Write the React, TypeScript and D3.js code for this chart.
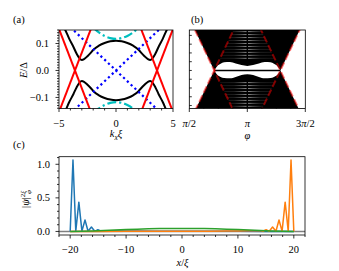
import * as d3 from "d3";
import React, { useEffect, useRef } from "react";

// ---------- (a) spectrum vs k_x xi ----------
const kA = [-4.62, -4.45, -4.1, -3.74, -3.45, -3.2, -3.0, -2.8, -2.5, -2.2, -2.0, -1.5, -1.0, -0.5, 0, 0.5, 1.0, 1.5, 2.0, 2.2, 2.5, 2.8, 3.0, 3.2, 3.45, 3.74, 4.1, 4.45, 4.62];
const eBlackUp = [0.162, 0.15, 0.117, 0.088, 0.062, 0.045, 0.039, 0.042, 0.053, 0.066, 0.076, 0.092, 0.102, 0.108, 0.11, 0.108, 0.102, 0.092, 0.076, 0.066, 0.053, 0.042, 0.039, 0.045, 0.062, 0.088, 0.117, 0.15, 0.162];
const eBlackDown = [-0.162, -0.15, -0.117, -0.088, -0.062, -0.045, -0.039, -0.042, -0.053, -0.066, -0.076, -0.092, -0.102, -0.108, -0.11, -0.108, -0.102, -0.092, -0.076, -0.066, -0.053, -0.042, -0.039, -0.045, -0.062, -0.088, -0.117, -0.15, -0.162];
const redCross = [-3.6, 3.6];
const redSlope = 0.11;
const kBlue = [-5, 5];
const eBlueUp = [-0.2, 0.2];
const eBlueDown = [0.2, -0.2];
const kCyan = [-2.0, -1.5, -1.0, -0.5, 0, 0.5, 1.0, 1.5, 2.0];
const eCyanUp = [0.159, 0.141, 0.128, 0.12, 0.117, 0.12, 0.128, 0.141, 0.159];
const eCyanDown = [-0.159, -0.141, -0.128, -0.12, -0.117, -0.12, -0.128, -0.141, -0.159];

// ---------- (b) spectrum vs phi (phi in units of pi) ----------
const crossB = [0.715, 1.285];
const slopeB = 0.9;
const bowPhi = [0.715, 0.74, 0.77, 0.8, 0.85, 0.9, 0.95, 1.0, 1.05, 1.1, 1.15, 1.2, 1.23, 1.26, 1.285];
const bowTop = [0, 0.016, 0.025, 0.03, 0.031, 0.026, 0.02, 0.017, 0.02, 0.026, 0.031, 0.03, 0.025, 0.016, 0];
const bowBottom = [0, -0.016, -0.024, -0.028, -0.029, -0.024, -0.017, -0.014, -0.017, -0.024, -0.029, -0.028, -0.024, -0.016, 0];
const stripeE = [0.045, 0.056, 0.067, 0.078, 0.089, 0.1, 0.111, 0.122, 0.133, 0.144, -0.045, -0.056, -0.067, -0.078, -0.089, -0.1, -0.111, -0.122, -0.133];

// ---------- (c) wavefunctions ----------
const xBlue = [-20, -19.5, -19.0, -18.45, -17.9, -17.35, -16.8, -16.2, -15.6, -15.05, -14.5, -14.0, -13.0, -12.0, -10.0, -8.0, -5.0, 0, 5, 10, 15, 20];
const yBlue = [0, 1.064, 0.004, 0.436, 0.004, 0.17, 0.003, 0.066, 0.002, 0.026, 0.003, 0.012, 0.01, 0.009, 0.007, 0.005, 0.003, 0.002, 0.001, 0.001, 0, 0];
const xOrange = [-20, -15, -10, -5, 0, 5, 8, 10, 12, 13, 14, 14.5, 15.05, 15.6, 16.2, 16.8, 17.35, 17.9, 18.45, 19.0, 19.5, 20];
const yOrange = [0, 0, 0.001, 0.001, 0.002, 0.003, 0.005, 0.007, 0.009, 0.01, 0.012, 0.003, 0.026, 0.002, 0.066, 0.003, 0.17, 0.004, 0.436, 0.004, 1.064, 0];
const xGreen = [-20, -18, -16, -14, -12, -10, -8, -6, -4, -2, 0, 2, 4, 6, 8, 10, 12, 14, 16, 18, 20];
const yGreen = [0, 0.002, 0.006, 0.013, 0.021, 0.028, 0.034, 0.039, 0.042, 0.044, 0.045, 0.044, 0.042, 0.039, 0.034, 0.028, 0.021, 0.013, 0.006, 0.002, 0];

// ---------- ticks ----------
const ticksAx = [-5, 0, 5];
const labelsAx = ["\u22125", "0", "5"];
const minorAx = [-4, -3, -2, -1, 1, 2, 3, 4];
const ticksAy = [-0.1, 0, 0.1];
const labelsAy = ["\u22120.1", "0.0", "0.1"];
const minorAy = [-0.14, -0.13, -0.12, -0.11, -0.09, -0.08, -0.07, -0.06, -0.05, -0.04, -0.03, -0.02, -0.01, 0.01, 0.02, 0.03, 0.04, 0.05, 0.06, 0.07, 0.08, 0.09, 0.11, 0.12, 0.13, 0.14, 0.15];
const ticksBx = [0.5, 1, 1.5];
const minorBx = [0.625, 0.75, 0.875, 1.125, 1.25, 1.375];
const ticksBy = [-0.13, -0.0975, -0.065, -0.0325, 0, 0.0325, 0.065, 0.0975, 0.13];
const ticksCx = [-20, -10, 0, 10, 20];
const labelsCx = ["\u221220", "\u221210", "0", "10", "20"];
const minorCx = [-22, -18, -16, -14, -12, -8, -6, -4, -2, 2, 4, 6, 8, 12, 14, 16, 18, 22];
const ticksCy = [0, 0.5, 1.0];
const labelsCy = ["0.0", "0.5", "1.0"];
const minorCy = [0.1, 0.2, 0.3, 0.4, 0.6, 0.7, 0.8, 0.9, 1.1];

const FONT = "Liberation Serif";
const FS = 10.5;

const zip = (a: number[], b: number[]) => a.map((v, i) => [v, b[i]] as [number, number]);

export default function App() {
  const ref = useRef<SVGSVGElement>(null);

  useEffect(() => {
    const svg = d3.select(ref.current);
    svg.selectAll("*").remove();
    const defs = svg.append("defs");

    const tickLines = (g: any, orient: string, pos: number, vals: number[], scale: any, len: number) => {
      vals.forEach((v) => {
        const p = scale(v);
        if (orient === "left")
          g.append("line").attr("x1", pos).attr("x2", pos - len).attr("y1", p).attr("y2", p);
        else
          g.append("line").attr("y1", pos).attr("y2", pos + len).attr("x1", p).attr("x2", p);
      });
    };
    const txt = (x: number, y: number, s: string, anchor = "middle", size = FS) =>
      svg.append("text").attr("x", x).attr("y", y).attr("text-anchor", anchor)
        .attr("font-family", FONT).attr("font-size", size).text(s);

    // ================= (a) =================
    const xA = d3.scaleLinear().domain([-5, 5]).range([59, 173]);
    const yA = d3.scaleLinear().domain([-0.141, 0.15]).range([108.5, 30]);
    defs.append("clipPath").attr("id", "clipA").append("rect")
      .attr("x", 59).attr("y", 30).attr("width", 114).attr("height", 78.5);
    const gA = svg.append("g").attr("clip-path", "url(#clipA)");
    const lineA = d3.line<[number, number]>().x((d) => xA(d[0])).y((d) => yA(d[1])).curve(d3.curveMonotoneX);
    const straightA = d3.line<[number, number]>().x((d) => xA(d[0])).y((d) => yA(d[1]));

    [eBlackUp, eBlackDown].forEach((es) =>
      gA.append("path").attr("d", lineA(zip(kA, es))).attr("fill", "none")
        .attr("stroke", "#000").attr("stroke-width", 2));
    [eBlueUp, eBlueDown].forEach((es) =>
      gA.append("path").attr("d", straightA(zip(kBlue, es))).attr("fill", "none")
        .attr("stroke", "#0000ff").attr("stroke-width", 2.2).attr("stroke-dasharray", "2.2,3"));
    [eCyanUp, eCyanDown].forEach((es) =>
      gA.append("path").attr("d", lineA(zip(kCyan, es))).attr("fill", "none")
        .attr("stroke", "#00bfbf").attr("stroke-width", 2.2).attr("stroke-dasharray", "9,3,2.2,3"));
    redCross.forEach((c) => {
      const dk = 0.17 / redSlope;
      [[0.17, -0.17], [-0.17, 0.17]].forEach((es) =>
        gA.append("path").attr("d", straightA(zip([c - dk, c + dk], es))).attr("fill", "none")
          .attr("stroke", "#ff0000").attr("stroke-width", 2));
    });

    svg.append("rect").attr("x", 59).attr("y", 30).attr("width", 114).attr("height", 78.5)
      .attr("fill", "none").attr("stroke", "#000").attr("stroke-width", 0.8);
    const tA = svg.append("g").attr("stroke", "#000").attr("stroke-width", 0.8);
    tickLines(tA, "bottom", 108.5, ticksAx, xA, 3.5);
    tickLines(tA, "bottom", 108.5, minorAx, xA, 2);
    tickLines(tA, "left", 59, ticksAy, yA, 3.5);
    tickLines(tA, "left", 59, minorAy, yA, 2);
    ticksAx.forEach((v, i) => txt(xA(v), 126.5, labelsAx[i]));
    ticksAy.forEach((v, i) => txt(49, yA(v) + 3.6, labelsAy[i], "end"));

    const kl = svg.append("text").attr("x", 116).attr("y", 137).attr("text-anchor", "middle")
      .attr("font-family", FONT).attr("font-size", FS).attr("font-style", "italic");
    kl.append("tspan").text("k");
    kl.append("tspan").attr("font-size", 7.5).attr("dy", 2.5).text("x");
    kl.append("tspan").attr("dy", -2.5).text("\u03be");

    const el = svg.append("text").attr("transform", "translate(26.5,70) rotate(-90)")
      .attr("text-anchor", "middle").attr("font-family", FONT).attr("font-size", FS);
    el.append("tspan").attr("font-style", "italic").text("E");
    el.append("tspan").text("/\u0394");

    txt(13, 23, "(a)", "start");

    // ================= (b) =================
    const xB = d3.scaleLinear().domain([0.5, 1.5]).range([189.3, 305.3]);
    const yB = yA;
    defs.append("clipPath").attr("id", "clipB").append("rect")
      .attr("x", 189.3).attr("y", 30).attr("width", 116).attr("height", 78.5);
    const gB = svg.append("g").attr("clip-path", "url(#clipB)");
    gB.append("rect").attr("x", 189.3).attr("y", 30).attr("width", 116).attr("height", 78.5).attr("fill", "#000");

    const poly = d3.line<[number, number]>().x((d) => xB(d[0])).y((d) => yB(d[1]));
    crossB.forEach((c, i) => {
      const edge = i === 0 ? 0.4 : 1.6;
      const h = slopeB * Math.abs(c - edge);
      gB.append("path").attr("d", poly([[edge, h], [c, 0], [edge, -h]]) + "Z").attr("fill", "#fff");
    });

    // level stripes between the inner branches
    const reach = 0.25;
    const dPhi = reach / slopeB;
    defs.append("clipPath").attr("id", "clipD").append("path")
      .attr("d", poly([[crossB[0], 0], [crossB[0] + dPhi, reach], [crossB[1] - dPhi, reach], [crossB[1], 0], [crossB[1] - dPhi, -reach], [crossB[0] + dPhi, -reach]]) + "Z");
    const grad = defs.append("linearGradient").attr("id", "gradB").attr("gradientUnits", "userSpaceOnUse")
      .attr("x1", xB(crossB[0])).attr("x2", xB(crossB[1])).attr("y1", 0).attr("y2", 0);
    [[0, 0.05], [0.3, 0.12], [0.42, 0.35], [0.5, 0.6], [0.58, 0.35], [0.7, 0.12], [1, 0.05]].forEach(([o, a]) =>
      grad.append("stop").attr("offset", o).attr("stop-color", "#fff").attr("stop-opacity", a));
    const gS = gB.append("g").attr("clip-path", "url(#clipD)");
    stripeE.forEach((e) =>
      gS.append("line").attr("x1", xB(crossB[0])).attr("x2", xB(crossB[1]))
        .attr("y1", yB(e)).attr("y2", yB(e)).attr("stroke", "url(#gradB)").attr("stroke-width", 1));
    gS.append("line").attr("x1", xB(1)).attr("x2", xB(1)).attr("y1", 30).attr("y2", 108.5)
      .attr("stroke", "#000").attr("stroke-width", 1.5);

    const bow = d3.area<number>().x((d, i) => xB(bowPhi[i])).y0((d, i) => yB(bowBottom[i])).y1((d) => yB(d)).curve(d3.curveMonotoneX);
    gB.append("path").attr("d", bow(bowTop)).attr("fill", "#fff");
    gB.append("line").attr("x1", xB(crossB[0])).attr("x2", xB(crossB[1])).attr("y1", yB(0)).attr("y2", yB(0))
      .attr("stroke", "#000").attr("stroke-width", 1.6);

    crossB.forEach((c) => {
      [1, -1].forEach((s) =>
        gB.append("path").attr("d", poly([[0.4, s * slopeB * (0.4 - c)], [1.6, s * slopeB * (1.6 - c)]]))
          .attr("fill", "none").attr("stroke", "#ff0000").attr("stroke-opacity", 0.5)
          .attr("stroke-width", 2).attr("stroke-dasharray", "7,3"));
    });

    svg.append("rect").attr("x", 189.3).attr("y", 30).attr("width", 116).attr("height", 78.5)
      .attr("fill", "none").attr("stroke", "#000").attr("stroke-width", 0.8);
    const tB = svg.append("g").attr("stroke", "#000").attr("stroke-width", 0.8);
    tickLines(tB, "bottom", 108.5, ticksBx, xB, 3.5);
    tickLines(tB, "bottom", 108.5, minorBx, xB, -2);
    tickLines(tB, "left", 189.3, ticksBy, yB, -2.5);

    const piLabel = (x: number, pre: string, post: string) => {
      const t = svg.append("text").attr("x", x).attr("y", 126.5).attr("text-anchor", "middle")
        .attr("font-family", FONT).attr("font-size", FS);
      if (pre) t.append("tspan").text(pre);
      t.append("tspan").attr("font-style", "italic").text("\u03c0");
      if (post) t.append("tspan").text(post);
    };
    piLabel(xB(0.5), "", "/2");
    piLabel(xB(1), "", "");
    piLabel(xB(1.5), "3", "/2");
    svg.append("text").attr("x", xB(1)).attr("y", 138.5).attr("text-anchor", "middle")
      .attr("font-family", FONT).attr("font-size", FS).attr("font-style", "italic").text("\u03c6");
    txt(191, 23, "(b)", "start");

    // ================= (c) =================
    const xC = d3.scaleLinear().domain([-22, 22]).range([59, 305]);
    const yC = d3.scaleLinear().domain([-0.053, 1.113]).range([235, 156.7]);
    defs.append("clipPath").attr("id", "clipC").append("rect")
      .attr("x", 59).attr("y", 156.7).attr("width", 246).attr("height", 78.3);
    const gC = svg.append("g").attr("clip-path", "url(#clipC)");
    const lineC = d3.line<[number, number]>().x((d) => xC(d[0])).y((d) => yC(d[1]));
    gC.append("line").attr("x1", 59).attr("x2", 305).attr("y1", yC(0)).attr("y2", yC(0))
      .attr("stroke", "#808080").attr("stroke-width", 1.5);
    [[xBlue, yBlue, "#1f77b4"], [xOrange, yOrange, "#ff7f0e"], [xGreen, yGreen, "#2ca02c"]].forEach(([xs, ys, c]: any) =>
      gC.append("path").attr("d", lineC(zip(xs, ys))).attr("fill", "none")
        .attr("stroke", c).attr("stroke-width", 1.5).attr("stroke-linejoin", "round"));

    svg.append("rect").attr("x", 59).attr("y", 156.7).attr("width", 246).attr("height", 78.3)
      .attr("fill", "none").attr("stroke", "#000").attr("stroke-width", 0.8);
    const tC = svg.append("g").attr("stroke", "#000").attr("stroke-width", 0.8);
    tickLines(tC, "bottom", 235, ticksCx, xC, 3.5);
    tickLines(tC, "bottom", 235, minorCx, xC, 2);
    tickLines(tC, "left", 59, ticksCy, yC, 3.5);
    tickLines(tC, "left", 59, minorCy, yC, 2);
    ticksCx.forEach((v, i) => txt(xC(v), 252.5, labelsCx[i]));
    ticksCy.forEach((v, i) => txt(50, yC(v) + 3.6, labelsCy[i], "end"));

    const xl = svg.append("text").attr("x", 182.5).attr("y", 265.5).attr("text-anchor", "middle")
      .attr("font-family", FONT).attr("font-size", FS).attr("font-style", "italic");
    xl.append("tspan").text("x");
    xl.append("tspan").attr("font-style", "normal").text("/");
    xl.append("tspan").text("\u03be");

    const pl = svg.append("text").attr("transform", "translate(29,199) rotate(-90)")
      .attr("text-anchor", "middle").attr("font-family", FONT).attr("font-size", FS);
    pl.append("tspan").text("|");
    pl.append("tspan").attr("font-style", "italic").text("\u03c8");
    pl.append("tspan").text("|");
    pl.append("tspan").attr("font-size", 7).attr("dy", -4).text("2");
    pl.append("tspan").attr("font-size", 7).attr("font-style", "italic").text("\u03be");
    pl.append("tspan").attr("font-size", 7).attr("font-style", "italic").attr("dy", 6).attr("dx", -3).text("\u03c6");

    txt(13, 148, "(c)", "start");
  }, []);

  return (
    <svg ref={ref} width={339} height={271}
      style={{ position: "absolute", left: 0, top: 0, background: "#fff", fontFamily: "Liberation Serif" }} />
  );
}
